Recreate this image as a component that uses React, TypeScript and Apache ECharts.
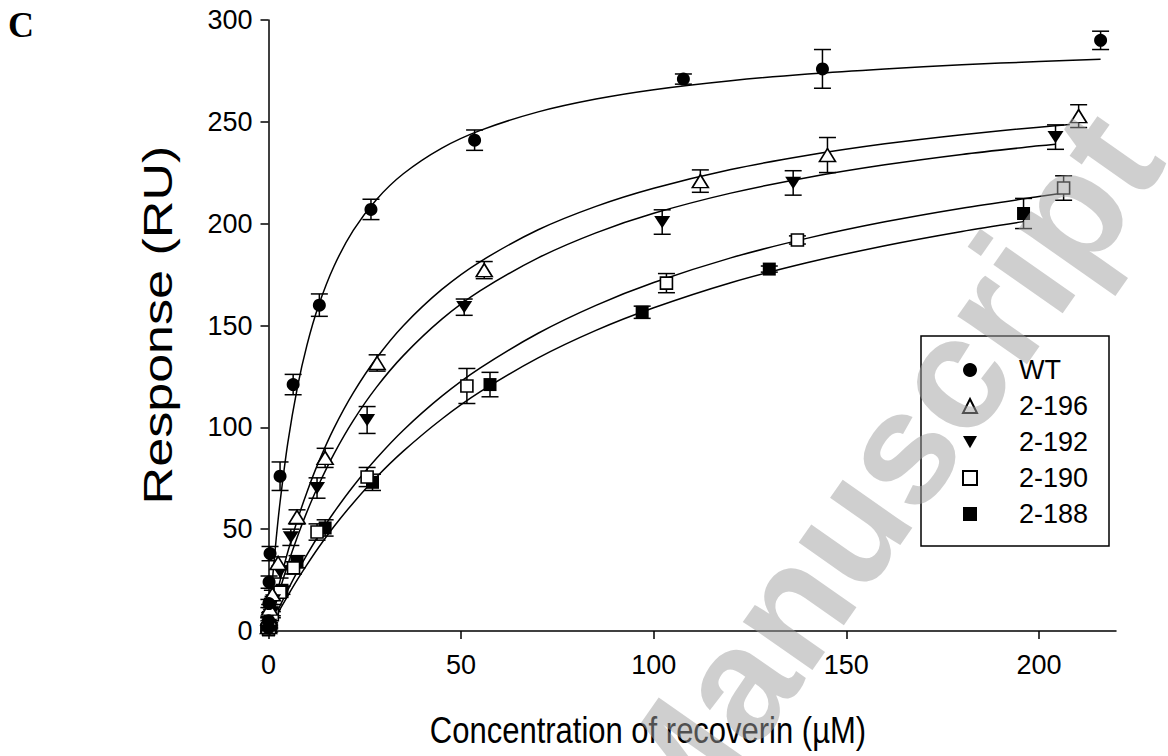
import React, { useEffect, useRef } from "react";
import * as echarts from "echarts";

const FONT = '"Liberation Sans", Arial, Helvetica, sans-serif';

const X_TICKS = [0, 50, 100, 150, 200];
const Y_TICKS = [0, 50, 100, 150, 200, 250, 300];

const SERIES_NAMES = ["WT", "2-196", "2-192", "2-190", "2-188"];
const X_TITLE = "Concentration of recoverin (µM)";
const Y_TITLE = "Response (RU)";

// measured points: x (µM), y (RU), error (RU)
const WT_X = [0, 0.05, 0.1, 0.15, 0.4, 3.0, 6.4, 13.2, 26.6, 53.5, 107.7, 143.8, 216];
const WT_Y = [1.5, 5, 13.5, 24, 38, 76, 121, 160, 207, 241, 271, 276, 290];
const WT_E = [1, 1.5, 2, 3, 3.5, 7, 5, 5.5, 5, 5, 2.5, 9.5, 4.5];

const S196_X = [0, 0.1, 0.3, 1.0, 2.5, 7.4, 14.7, 28.2, 56, 112.1, 145.1, 210.3];
const S196_Y = [2, 6, 11, 18, 33.4, 56, 85, 131.6, 177.2, 220.9, 233.7, 252.8];
const S196_E = [1, 1, 2, 2, 3, 3.5, 4.7, 4, 4.2, 5.5, 8.6, 5.6];

const S192_X = [0.3, 0.2, 0.5, 1.2, 3.0, 5.8, 12.6, 25.6, 50.8, 102.2, 136.2, 204.3];
const S192_Y = [0.5, 3, 8, 15, 29, 46, 70.2, 103.6, 159, 200.8, 220, 242.5];
const S192_E = [1, 1, 1.5, 2, 3, 4, 5, 6.6, 4, 6, 6, 6];

const S190_X = [0, 0.3, 1.0, 3.0, 6.5, 12.6, 25.6, 51.5, 103.3, 137.3, 206.4];
const S190_Y = [1, 3, 8, 19, 31, 48.6, 75.6, 120.3, 170.8, 192, 217.5];
const S190_E = [1, 1, 1.5, 2.5, 3, 4, 4.7, 8.6, 4.7, 2, 6];

const S188_X = [0, 0.3, 1.0, 3.5, 7.4, 14.7, 27, 57.5, 97, 130, 196];
const S188_Y = [0.5, 2, 9, 20, 34, 50.6, 73, 121, 156.5, 177.7, 205];
const S188_E = [1, 1, 1.5, 2, 3, 4, 4, 6, 3, 1.5, 7.4];

// fitted curves
const FIT_X = [0, 0.5, 1, 2, 3, 5, 7.5, 10, 13, 17, 22, 28, 35, 45, 55, 70, 85, 100, 120, 140, 160, 180, 200];
const WT_FIT_X = [...FIT_X, 216];
const WT_FIT_Y = [0, 12.8, 24.6, 45.4, 63.2, 92.2, 119.6, 140.5, 159.8, 179.1, 196.7, 211.8, 224.5, 237.1, 245.8, 254.9, 261.2, 265.8, 270.2, 273.5, 276.0, 278.0, 279.6, 280.7];
const S196_FIT_X = [...FIT_X, 208];
const S196_FIT_Y = [0, 4.4, 8.7, 16.9, 24.6, 38.8, 54.5, 68.3, 82.9, 99.6, 116.9, 133.9, 149.9, 167.7, 181.4, 197.0, 208.5, 217.4, 226.6, 233.6, 239.2, 243.7, 247.4, 248.7];
const S192_FIT_X = [...FIT_X, 204.3];
const S192_FIT_Y = [0, 3.6, 7.2, 14.0, 20.5, 32.6, 46.3, 58.6, 71.7, 87.0, 103.3, 119.6, 135.2, 153.1, 167.1, 183.2, 195.5, 205.1, 215.0, 222.7, 228.9, 234.0, 238.2, 239.0];
const S190_FIT_X = [...FIT_X, 206.4];
const S190_FIT_Y = [0, 2.1, 4.3, 8.4, 12.4, 20.1, 29.1, 37.5, 46.9, 58.3, 71.1, 84.7, 98.6, 115.3, 129.2, 146.2, 159.9, 171.1, 183.2, 192.9, 200.9, 207.6, 213.3, 215.0];
const S188_FIT_X = [0, 0.5, 1, 2, 3, 5, 7.5, 10, 13, 17, 22, 28, 35, 45, 55, 70, 85, 100, 120, 140, 160, 180, 196];
const S188_FIT_Y = [0, 1.8, 3.65, 7.2, 10.7, 17.3, 25.2, 32.6, 41.0, 51.3, 62.9, 75.5, 88.3, 104.1, 117.5, 134.1, 147.6, 158.7, 171.0, 180.9, 189.2, 196.2, 201.0];

const zip2 = (a: number[], b: number[]) => a.map((v, i) => [v, b[i]]);
const zip3 = (a: number[], b: number[], c: number[]) => a.map((v, i) => [v, b[i], c[i]]);

const BLACK = "#000";
const DOWN_TRIANGLE = "path://M0,0L16,0L8,14Z";

function errorSeries(name: string, data: number[][]) {
  return {
    name: name + " err",
    type: "custom",
    z: 2,
    silent: true,
    data,
    encode: { x: 0, y: 1 },
    renderItem: (params: any, api: any) => {
      const x = api.value(0);
      const y = api.value(1);
      const e = api.value(2);
      const top = api.coord([x, y + e]);
      const bot = api.coord([x, y - e]);
      const hw = 8.5;
      const st = { stroke: BLACK, lineWidth: 1.5 };
      return {
        type: "group",
        children: [
          { type: "line", shape: { x1: top[0], y1: top[1], x2: bot[0], y2: bot[1] }, style: st },
          { type: "line", shape: { x1: top[0] - hw, y1: top[1], x2: top[0] + hw, y2: top[1] }, style: st },
          { type: "line", shape: { x1: bot[0] - hw, y1: bot[1], x2: bot[0] + hw, y2: bot[1] }, style: st },
        ],
      };
    },
  };
}

function fitSeries(name: string, data: number[][]) {
  return {
    name: name + " fit",
    type: "line",
    z: 1,
    smooth: 0.3,
    showSymbol: false,
    silent: true,
    data,
    lineStyle: { color: BLACK, width: 1.5 },
  };
}

function pointSeries(name: string, data: number[][], symbol: string, size: any, open: boolean) {
  return {
    name,
    type: "scatter",
    z: 3,
    symbol,
    symbolSize: size,
    symbolKeepAspect: true,
    data: data.map((d) => [d[0], d[1]]),
    itemStyle: open
      ? { color: "#fff", borderColor: BLACK, borderWidth: 1.6, opacity: 1 }
      : { color: BLACK, borderColor: BLACK, borderWidth: 0, opacity: 1 },
  };
}

export default function App() {
  const ref = useRef<HTMLDivElement>(null);
  useEffect(() => {
    if (!ref.current) return;
    const chart = echarts.init(ref.current, undefined, { renderer: "svg" });
    const wt = zip3(WT_X, WT_Y, WT_E);
    const s196 = zip3(S196_X, S196_Y, S196_E);
    const s192 = zip3(S192_X, S192_Y, S192_E);
    const s190 = zip3(S190_X, S190_Y, S190_E);
    const s188 = zip3(S188_X, S188_Y, S188_E);
    const option: any = {
      animation: false,
      backgroundColor: "#fff",
      grid: { left: 268.5, right: 52, top: 20, bottom: 125, containLabel: false },
      xAxis: {
        type: "value",
        min: 0,
        max: 220,
        interval: 50,
        axisLine: { show: true, onZero: true, lineStyle: { color: BLACK, width: 1.5 } },
        axisTick: { show: true, inside: false, length: 8, lineStyle: { color: BLACK, width: 1.5 }, customValues: X_TICKS },
        axisLabel: { customValues: X_TICKS, color: BLACK, fontSize: 27, fontFamily: FONT, margin: 20 },
        splitLine: { show: false },
      },
      yAxis: {
        type: "value",
        min: 0,
        max: 300,
        interval: 50,
        axisLine: { show: true, lineStyle: { color: BLACK, width: 1.5 } },
        axisTick: { show: true, inside: false, length: 8, lineStyle: { color: BLACK, width: 1.5 }, customValues: Y_TICKS },
        axisLabel: { customValues: Y_TICKS, color: BLACK, fontSize: 27, fontFamily: FONT, margin: 16 },
        splitLine: { show: false },
      },
      legend: {
        data: SERIES_NAMES,
        orient: "vertical",
        left: 962,
        top: 355,
        itemWidth: 14,
        itemHeight: 14,
        itemGap: 6,
        selectedMode: false,
        padding: 0,
        textStyle: { fontSize: 27, fontFamily: FONT, color: BLACK, lineHeight: 30, padding: [0, 0, 0, 37] },
      },
      graphic: [
        {
          type: "rect",
          z: 10,
          silent: true,
          shape: { x: 921, y: 336, width: 188, height: 210 },
          style: { fill: "none", stroke: BLACK, lineWidth: 1.5 },
        },
        {
          type: "text",
          z: 10,
          x: 8,
          y: 25,
          silent: true,
          style: { text: "C", font: 'bold 36px "Liberation Serif", "Times New Roman", serif', fill: BLACK, verticalAlign: "middle", align: "left" },
        },
        {
          type: "text",
          z: 10,
          x: 648,
          y: 730,
          scaleY: 1.17,
          silent: true,
          style: { text: X_TITLE, font: `31px ${FONT}`, fill: BLACK, verticalAlign: "middle", align: "center" },
        },
        {
          type: "text",
          z: 10,
          x: 158,
          y: 325,
          rotation: Math.PI / 2,
          scaleX: 1.27,
          silent: true,
          style: { text: Y_TITLE, font: `41px ${FONT}`, fill: BLACK, verticalAlign: "middle", align: "center" },
        },
        {
          type: "text",
          z: 100,
          x: 878,
          y: 480,
          rotation: (55 * Math.PI) / 180,
          silent: true,
          style: {
            text: "Manuscript",
            font: `bold 160px ${FONT}`,
            fill: "rgba(160,160,160,0.5)",
            align: "center",
            verticalAlign: "middle",
          },
        },
      ],
      series: [
        fitSeries("WT", zip2(WT_FIT_X, WT_FIT_Y)),
        fitSeries("2-196", zip2(S196_FIT_X, S196_FIT_Y)),
        fitSeries("2-192", zip2(S192_FIT_X, S192_FIT_Y)),
        fitSeries("2-190", zip2(S190_FIT_X, S190_FIT_Y)),
        fitSeries("2-188", zip2(S188_FIT_X, S188_FIT_Y)),
        errorSeries("2-188", s188),
        errorSeries("2-190", s190),
        errorSeries("2-192", s192),
        errorSeries("2-196", s196),
        errorSeries("WT", wt),
        pointSeries("2-188", s188, "rect", 13, false),
        pointSeries("2-190", s190, "rect", 12, true),
        pointSeries("2-192", s192, DOWN_TRIANGLE, [16, 14], false),
        pointSeries("2-196", s196, "triangle", [16, 13], true),
        pointSeries("WT", wt, "circle", 13, false),
      ],
    };
    chart.setOption(option);
    return () => chart.dispose();
  }, []);
  return <div ref={ref} style={{ position: "fixed", left: 0, top: 0, width: 1168, height: 756 }} />;
}
